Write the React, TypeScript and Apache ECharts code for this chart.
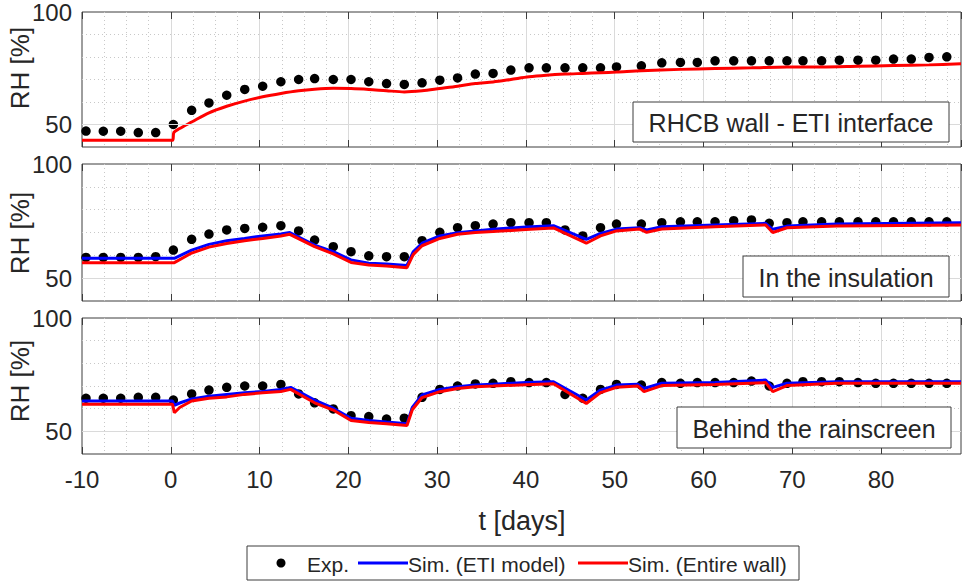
import React, { useEffect, useRef } from 'react';
import * as echarts from 'echarts';

// ---------- data ----------
const EXP_T = [
  -9.55, -7.6, -5.64, -3.66, -1.7, 0.29, 2.35, 4.3, 6.3, 8.33, 10.35, 12.4, 14.4, 16.2, 18.3, 20.3,
  22.3, 24.3, 26.3, 28.3, 30.3, 32.3, 34.3, 36.3, 38.3, 40.35, 42.3, 44.4, 46.4, 48.4, 50.2, 53.0,
  55.3, 57.4, 59.3, 61.3, 63.4, 65.4, 67.4, 69.4, 71.2, 73.3, 75.3, 77.4, 79.4, 81.4, 83.4, 85.4, 87.4,
];

const EXP_INTERFACE = [
  47.1, 47.0, 47.0, 46.4, 46.4, 50.0, 56.3, 59.6, 63.0, 65.6, 67.0, 69.0, 70.0, 70.4, 70.0, 70.0,
  69.0, 68.2, 67.8, 68.5, 69.7, 70.7, 72.4, 72.7, 74.2, 75.2, 75.2, 75.2, 75.2, 75.2, 75.6, 76.1,
  77.4, 77.6, 77.6, 78.3, 78.3, 78.3, 78.3, 78.3, 78.3, 78.3, 78.6, 78.6, 78.6, 79.1, 79.1, 79.8, 80.1,
];

const EXP_INSULATION = [
  59.1, 59.1, 59.1, 59.1, 59.4, 62.3, 67.0, 69.3, 71.1, 71.8, 72.3, 73.0, 70.7, 66.7, 63.8, 61.6,
  59.8, 59.4, 59.4, 66.4, 70.1, 72.1, 73.0, 73.7, 74.3, 74.3, 74.3, 71.1, 68.5, 72.1, 73.7, 73.7,
  74.3, 74.7, 74.7, 74.7, 75.2, 75.5, 74.0, 74.3, 74.7, 74.7, 74.7, 74.7, 74.7, 74.7, 74.7, 74.7, 74.7,
];

const EXP_RAINSCREEN = [
  64.6, 64.6, 64.6, 65.0, 65.0, 63.8, 66.5, 68.2, 69.4, 70.0, 70.0, 70.7, 66.5, 62.6, 59.9, 56.9,
  56.5, 55.4, 55.8, 65.0, 68.5, 70.0, 70.9, 71.2, 71.9, 71.5, 71.5, 66.3, 64.6, 68.5, 70.7, 70.4,
  71.5, 71.2, 71.5, 71.5, 71.5, 72.2, 70.0, 71.2, 71.9, 71.9, 71.9, 71.5, 71.2, 71.2, 71.2, 71.2, 71.2,
];

const SIM_INTERFACE_WALL: [number, number][] = [
  [-10, 43.0], [0.2, 43.0], [0.35, 46.5], [1, 48.2], [2.35, 51.1], [4.3, 55.2], [6.3, 58.1],
  [8.3, 60.4], [10.35, 62.3], [12.4, 63.8], [14.4, 65.0], [16.2, 65.7], [18.3, 66.1], [20.3, 66.0],
  [22.3, 65.6], [24.3, 65.0], [26.3, 64.5], [28.3, 65.0], [30.3, 66.0], [32.3, 67.0], [34.3, 68.2],
  [36.3, 68.9], [38.3, 70.0], [40.35, 71.2], [42.3, 71.9], [44.4, 72.4], [46.4, 72.7], [48.4, 73.0],
  [50.2, 73.3], [53, 73.9], [57.4, 74.5], [61.3, 74.9], [65.4, 75.2], [69.4, 75.6], [73.3, 75.6],
  [77.4, 75.9], [81.4, 76.2], [85.4, 76.5], [89, 77.0],
];

const SIM_INSULATION_ETI: [number, number][] = [
  [-10, 58.7], [0.4, 58.7], [2.35, 62.3], [4.3, 64.8], [6.3, 66.4], [8.3, 67.4], [10.35, 68.5],
  [12.4, 69.3], [13.4, 70.0], [16.2, 64.5], [18.3, 61.6], [20.3, 58.0], [22.3, 56.5], [24.3, 56.2],
  [26.6, 55.6], [27.3, 61.5], [28.3, 65.3], [30.3, 68.5], [32.3, 69.9], [34.3, 70.7], [36.3, 71.4],
  [40, 72.4], [43.1, 73.0], [46.8, 67.0], [48.4, 69.6], [50.2, 71.5], [52.8, 72.1], [53.6, 71.1],
  [55.3, 72.5], [61.3, 73.3], [67.0, 74.0], [67.8, 71.4], [69.4, 72.8], [75, 73.7], [89, 74.3],
];

const SIM_INSULATION_WALL: [number, number][] = [
  [-10, 56.8], [0.4, 56.8], [2.35, 61.0], [4.3, 63.6], [6.3, 65.2], [8.3, 66.4], [10.35, 67.4],
  [12.4, 68.5], [13.4, 69.2], [16.2, 63.8], [18.3, 60.6], [20.3, 56.9], [22.3, 55.8], [24.3, 55.3],
  [26.6, 54.6], [27.3, 60.3], [28.3, 64.2], [30.3, 67.4], [32.3, 69.2], [34.3, 70.0], [36.3, 70.4],
  [40, 71.3], [43.1, 72.0], [46.8, 65.3], [48.4, 68.5], [50.2, 70.7], [52.8, 71.5], [53.6, 70.1],
  [55.3, 71.5], [61.3, 72.5], [67.0, 73.3], [67.8, 70.0], [69.4, 72.1], [75, 72.8], [89, 73.3],
];

const SIM_RAINSCREEN_ETI: [number, number][] = [
  [-10, 63.4], [0.2, 63.4], [0.4, 61.5], [1, 62.5], [2.35, 64.3], [4.3, 65.5], [6.3, 66.3],
  [8.3, 67.0], [10.35, 67.6], [12.4, 68.5], [13.5, 69.4], [16.2, 63.8], [18.3, 60.2], [20.3, 55.8],
  [22.3, 54.8], [24.3, 54.1], [26.6, 53.3], [27.2, 60.5], [28.3, 66.1], [30.3, 68.5], [32.3, 69.7],
  [34.3, 70.4], [36.3, 70.8], [40, 71.5], [43.1, 71.9], [46.8, 63.8], [48.4, 68.2], [50.2, 70.4],
  [52.6, 70.8], [53.3, 68.9], [55.3, 71.2], [61.3, 71.5], [67.0, 72.6], [67.8, 69.4], [69.4, 71.2],
  [75, 71.9], [89, 71.9],
];

const SIM_RAINSCREEN_WALL: [number, number][] = [
  [-10, 61.9], [0.2, 61.9], [0.4, 58.2], [1, 60.5], [2.35, 63.4], [4.3, 64.6], [6.3, 65.2],
  [8.3, 66.3], [10.35, 67.0], [12.4, 67.6], [13.5, 68.5], [16.2, 62.6], [18.3, 59.4], [20.3, 54.8],
  [22.3, 53.9], [24.3, 53.3], [26.6, 52.6], [27.2, 59.5], [28.3, 64.9], [30.3, 67.5], [32.3, 68.9],
  [34.3, 69.7], [36.3, 70.0], [40, 70.6], [43.1, 71.0], [46.8, 62.3], [48.4, 67.1], [50.2, 69.4],
  [52.6, 70.0], [53.3, 67.5], [55.3, 70.2], [61.3, 70.7], [67.0, 71.5], [67.8, 67.5], [69.4, 70.2],
  [75, 71.2], [89, 71.2],
];

const PANEL_TITLES = ['RHCB wall - ETI interface', 'In the insulation', 'Behind the rainscreen'];
const Y_LABEL_VALUES = [50, 100];
const Y_TICK_VALUES = [50];
const X_MIN = -10;
const X_MAX = 89;
const Y_MIN = 40;
const Y_MAX = 100;
const LEGEND_NAMES = ['Exp.', 'Sim. (ETI model)', 'Sim. (Entire wall)'];

// ---------- layout / style ----------
const FONT = '"Liberation Sans", Arial, Helvetica, sans-serif';
const TXT = '#262626';
const GRID_TOPS = [12, 164, 318];
const GRID_HEIGHTS = [135, 137, 136];
const GRID_LEFT = 82;
const GRID_RIGHT = 2;
const BOXES = [
  { x: 633, y: 102, w: 316, h: 40 },
  { x: 743, y: 256, w: 206, h: 41 },
  { x: 677, y: 407, w: 274, h: 41 },
];
const RH_LABEL_Y = [68, 233, 381];
const SMOOTH = [0.3, 0, 0];

function buildOption() {
  const grid: any[] = [];
  const xAxis: any[] = [];
  const yAxis: any[] = [];
  const series: any[] = [];

  const panels = [
    { exp: EXP_INTERFACE, eti: null as null | [number, number][], wall: SIM_INTERFACE_WALL },
    { exp: EXP_INSULATION, eti: SIM_INSULATION_ETI, wall: SIM_INSULATION_WALL },
    { exp: EXP_RAINSCREEN, eti: SIM_RAINSCREEN_ETI, wall: SIM_RAINSCREEN_WALL },
  ];

  panels.forEach((p, i) => {
    grid.push({
      left: GRID_LEFT,
      right: GRID_RIGHT,
      top: GRID_TOPS[i],
      height: GRID_HEIGHTS[i],
      show: true,
      borderColor: '#3c3c3c',
      borderWidth: 1,
      backgroundColor: '#ffffff',
    });
    // minor dotted x grid (index 3i)
    xAxis.push({
      gridIndex: i, type: 'value', position: 'top', min: X_MIN, max: X_MAX, interval: 2.5,
      axisLine: { show: false }, axisTick: { show: false }, axisLabel: { show: false },
      splitLine: { show: true, showMinLine: false, showMaxLine: false, lineStyle: { color: '#c8c8c8', width: 1, type: [1, 3] } },
    });
    // main bottom x axis (index 3i+1)
    xAxis.push({
      gridIndex: i, type: 'value', position: 'bottom', min: X_MIN, max: X_MAX, interval: 10,
      axisLine: { show: false },
      axisTick: { show: true, inside: true, length: 7, lineStyle: { color: '#3c3c3c' } },
      axisLabel: { show: i === 2, fontSize: 24, color: TXT, margin: 13, fontFamily: FONT, showMaxLabel: false },
      splitLine: { show: true, showMinLine: false, showMaxLine: false, lineStyle: { color: '#dadada', width: 1 } },
    });
    // top ticks (index 3i+2)
    xAxis.push({
      gridIndex: i, type: 'value', position: 'top', min: X_MIN, max: X_MAX, interval: 10,
      axisLine: { show: false },
      axisTick: { show: true, inside: true, length: 7, lineStyle: { color: '#3c3c3c' } },
      axisLabel: { show: false }, splitLine: { show: false },
    });
    // main left y (index 3i)
    yAxis.push({
      gridIndex: i, type: 'value', position: 'left', min: Y_MIN, max: Y_MAX, interval: 10,
      axisLine: { show: false }, axisTick: { show: false },
      axisLabel: { show: true, customValues: Y_LABEL_VALUES, fontSize: 24, color: TXT, margin: 10, fontFamily: FONT },
      splitLine: { show: true, showMinLine: false, showMaxLine: false, lineStyle: { color: '#c8c8c8', width: 1, type: [1, 3] } },
    });
    // right ticks (index 3i+1)
    yAxis.push({
      gridIndex: i, type: 'value', position: 'right', min: Y_MIN, max: Y_MAX, interval: 10,
      axisLine: { show: false },
      axisTick: { show: true, inside: true, length: 7, customValues: Y_TICK_VALUES, lineStyle: { color: '#3c3c3c' } },
      axisLabel: { show: false }, splitLine: { show: false },
    });
    // left ticks (index 3i+2)
    yAxis.push({
      gridIndex: i, type: 'value', position: 'left', min: Y_MIN, max: Y_MAX, interval: 10,
      axisLine: { show: false },
      axisTick: { show: true, inside: true, length: 7, customValues: Y_TICK_VALUES, lineStyle: { color: '#3c3c3c' } },
      axisLabel: { show: false }, splitLine: { show: false },
    });

    const xi = 3 * i + 1;
    const yi = 3 * i;
    series.push({
      name: LEGEND_NAMES[0], type: 'scatter', xAxisIndex: xi, yAxisIndex: yi,
      data: EXP_T.map((t, k) => [t, p.exp[k]]),
      symbol: 'circle', symbolSize: 9.5, itemStyle: { color: '#000000', opacity: 1 }, z: 2,
      markLine: {
        silent: true, symbol: 'none', label: { show: false },
        lineStyle: { color: '#dadada', type: 'solid', width: 1 },
        data: [{ yAxis: 50 }],
      },
    });
    if (p.eti) {
      series.push({
        name: LEGEND_NAMES[1], type: 'line', xAxisIndex: xi, yAxisIndex: yi, data: p.eti,
        smooth: SMOOTH[i],
        showSymbol: false, lineStyle: { color: '#0000ff', width: 3 }, itemStyle: { color: '#0000ff' }, z: 3,
      });
    }
    series.push({
      name: LEGEND_NAMES[2], type: 'line', xAxisIndex: xi, yAxisIndex: yi, data: p.wall,
      smooth: SMOOTH[i],
      showSymbol: false, lineStyle: { color: '#ff0000', width: 3 }, itemStyle: { color: '#ff0000' }, z: 4,
    });
  });

  const graphic: any[] = [];
  RH_LABEL_Y.forEach((y) => {
    graphic.push({
      type: 'text', x: 20, y, rotation: Math.PI / 2, z: 100,
      style: { text: 'RH [%]', font: `26px ${FONT}`, fill: TXT, align: 'center', verticalAlign: 'middle' },
    });
  });
  BOXES.forEach((b, i) => {
    graphic.push({
      type: 'rect', z: 100, shape: { x: b.x, y: b.y, width: b.w, height: b.h },
      style: { fill: '#ffffff', stroke: '#3c3c3c', lineWidth: 1 },
    });
    graphic.push({
      type: 'text', z: 101, x: b.x + b.w / 2, y: b.y + b.h / 2 + 1,
      style: { text: PANEL_TITLES[i], font: `25px ${FONT}`, fill: TXT, align: 'center', verticalAlign: 'middle' },
    });
  });
  graphic.push({
    type: 'text', x: 522, y: 521, z: 100,
    style: { text: 't [days]', font: `27px ${FONT}`, fill: TXT, align: 'center', verticalAlign: 'middle' },
  });
  // legend
  const ly = 563;
  graphic.push({
    type: 'rect', z: 100, shape: { x: 247, y: 546, width: 552, height: 34 },
    style: { fill: '#ffffff', stroke: '#3c3c3c', lineWidth: 1 },
  });
  graphic.push({ type: 'circle', z: 101, shape: { cx: 281, cy: ly, r: 4.5 }, style: { fill: '#000000' } });
  graphic.push({
    type: 'text', z: 101, x: 307, y: ly + 1,
    style: { text: LEGEND_NAMES[0], font: `21px ${FONT}`, fill: TXT, align: 'left', verticalAlign: 'middle' },
  });
  graphic.push({ type: 'line', z: 101, shape: { x1: 358, y1: ly, x2: 408, y2: ly }, style: { stroke: '#0000ff', lineWidth: 3 } });
  graphic.push({
    type: 'text', z: 101, x: 408, y: ly + 1,
    style: { text: LEGEND_NAMES[1], font: `21px ${FONT}`, fill: TXT, align: 'left', verticalAlign: 'middle' },
  });
  graphic.push({ type: 'line', z: 101, shape: { x1: 578, y1: ly, x2: 628, y2: ly }, style: { stroke: '#ff0000', lineWidth: 3 } });
  graphic.push({
    type: 'text', z: 101, x: 628, y: ly + 1,
    style: { text: LEGEND_NAMES[2], font: `21px ${FONT}`, fill: TXT, align: 'left', verticalAlign: 'middle' },
  });

  return {
    animation: false,
    backgroundColor: '#ffffff',
    textStyle: { fontFamily: FONT },
    grid,
    xAxis,
    yAxis,
    series,
    graphic,
  };
}

export default function App() {
  const ref = useRef<HTMLDivElement>(null);
  useEffect(() => {
    if (!ref.current) return;
    const chart = echarts.init(ref.current, undefined, { renderer: 'svg' });
    chart.setOption(buildOption() as any);
    return () => chart.dispose();
  }, []);
  return (
    <div
      ref={ref}
      style={{ position: 'absolute', left: 0, top: 0, width: 963, height: 583, background: '#fff' }}
    />
  );
}
